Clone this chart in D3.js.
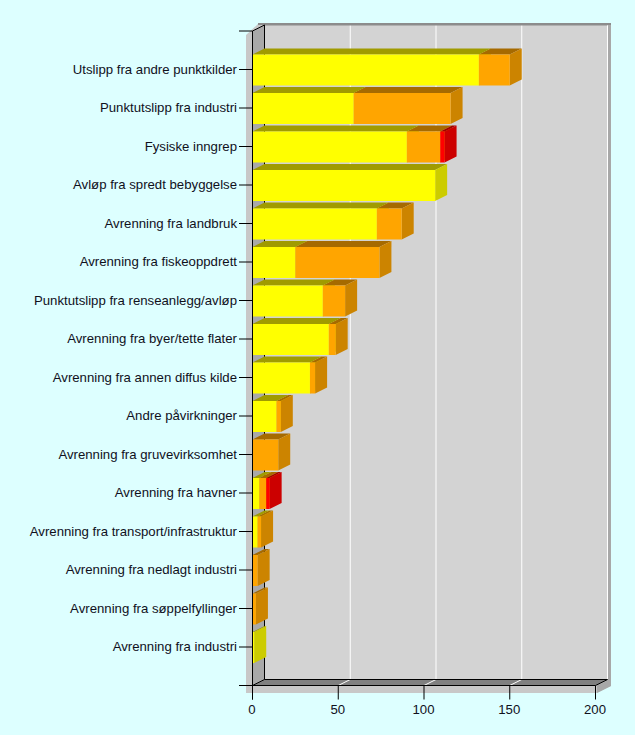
<!DOCTYPE html>
<html><head><meta charset="utf-8">
<script src="https://cdn.jsdelivr.net/npm/d3@7"></script>
<style>html,body{margin:0;padding:0;background:#DDFFFF}svg{display:block}text{font-family:"Liberation Sans",Arial,sans-serif;font-size:13.2px;fill:#10101c}</style>
</head><body><svg id="c" width="635" height="735"></svg>
<script>
const categories = ["Utslipp fra andre punktkilder","Punktutslipp fra industri","Fysiske inngrep","Avløp fra spredt bebyggelse","Avrenning fra landbruk","Avrenning fra fiskeoppdrett","Punktutslipp fra renseanlegg/avløp","Avrenning fra byer/tette flater","Avrenning fra annen diffus kilde","Andre påvirkninger","Avrenning fra gruvevirksomhet","Avrenning fra havner","Avrenning fra transport/infrastruktur","Avrenning fra nedlagt industri","Avrenning fra søppelfyllinger","Avrenning fra industri"];
const yellowValues = [132,59,90,106.5,72.5,25,41,44.5,33.5,14,0,4,3,0,0,1];
const orangeValues = [18,56.5,19.5,0,14.5,49,13,4,3,2.5,15,4,2,3,2,0];
const redValues = [0,0,2.5,0,0,0,0,0,0,0,0,2,0,0,0,0];
const xTicks = [0,50,100,150,200];
const seriesColors = [
  {front:"#FFFF00",top:"#A09B00",side:"#CCCC00"},
  {front:"#FFA500",top:"#A66A00",side:"#CC8400"},
  {front:"#FF0000",top:"#A00000",side:"#CC0000"}];

const svg = d3.select("#c");
const dx = 12, dy = 6;
const x = d3.scaleLinear().domain([0,200]).range([252.5,595.5]);
const y = d3.scalePoint().domain(["__top",...categories,"__bottom"]).range([31,685.5]);
const yTop = y.range()[0], yBot = y.range()[1];
const barH = 31;
const poly = (pts,fill,stroke) => svg.append("polygon").attr("points",pts.map(p=>p.join(",")).join(" ")).attr("fill",fill).attr("stroke",stroke||"none");
const line = (a,b,c,d,col,w) => svg.append("line").attr("x1",a).attr("y1",b).attr("x2",c).attr("y2",d).attr("stroke",col||"#000").attr("stroke-width",w||1);

const x0 = x(0), x1 = x(200);
// shadow
poly([[246,35],[258,24],[611,23],[611,686],[597,693],[246,693]],"#C8C8C8");
poly([[608,24],[611,24],[611,686],[597,693],[597,686]],"#A8A8A8");
poly([[258,23],[611,23],[611,25],[258,25]],"#8C8C8C");
// back wall, left wall, floor
poly([[x0+dx,yTop-dy],[x1+dx,yTop-dy],[x1+dx,yBot-dy],[x0+dx,yBot-dy]],"#D3D3D3");
poly([[x0,yTop],[x0+dx,yTop-dy],[x0+dx,yBot-dy],[x0,yBot]],"#A9A9A9");
poly([[x0,yBot],[x0+dx,yBot-dy],[x1+dx,yBot-dy],[x1,yBot]],"#808080");
// grid lines
xTicks.forEach(t=>{
  if(t===0) return;
  line(x(t)+dx,yTop-dy,x(t)+dx,yBot-dy,"#fff");
  if(t<200) line(x(t),yBot,x(t)+dx,yBot-dy,"#fff");
});
// frame
line(x0+dx,yTop-dy,x1+dx,yTop-dy,"#8C8C8C");
line(x0+dx,yTop-dy,x0+dx,yBot-dy);
line(x0+dx,yBot-dy,x1+dx,yBot-dy);
line(x0,yTop,x0+dx,yTop-dy);
line(x0,yBot,x0+dx,yBot-dy);
line(x1,yBot,x1+dx,yBot-dy);

// bars
const table = categories.map((c,i)=>({cat:c,yellow:yellowValues[i],orange:orangeValues[i],red:redValues[i]}));
const stacked = d3.stack().keys(["yellow","orange","red"])(table);
stacked.forEach((s,si)=>{
  const col = seriesColors[si];
  s.forEach((d,i)=>{
    if(d[1]<=d[0]) return;
    const a = x(d[0]), b = x(d[1]), t = y(categories[i])-barH/2+0.5, u = t+barH;
    poly([[a,t],[a+dx,t-dy],[b+dx,t-dy],[b,t]],col.top);
    poly([[b,t],[b+dx,t-dy],[b+dx,u-dy],[b,u]],col.side);
    poly([[a,t],[b,t],[b,u],[a,u]],col.front);
  });
});

// axes
line(x0,yTop,x0,yBot+14);
line(239,yBot,x1,yBot);
line(239,yTop,x0,yTop);
const yAxis = svg.append("g");
categories.forEach(c=>{
  line(239,y(c),x0,y(c));
  yAxis.append("text").attr("x",237).attr("y",y(c)+4.3).attr("text-anchor","end").text(c);
});
xTicks.forEach(t=>{
  line(x(t),yBot,x(t),yBot+14);
  svg.append("text").attr("x",x(t)-0.5).attr("y",714).attr("text-anchor","middle").text(t);
});
</script></body></html>
